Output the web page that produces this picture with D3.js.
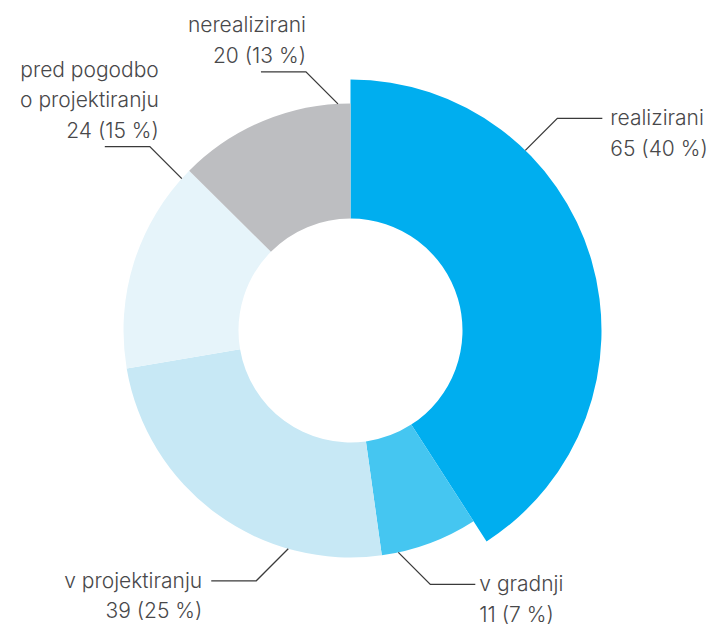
<!DOCTYPE html>
<html>
<head>
<meta charset="utf-8">
<script src="https://cdn.jsdelivr.net/npm/d3@7"></script>
<style>
  html, body { margin: 0; padding: 0; background: #fff; }
  svg text { font-family: Inter, "Open Sans", sans-serif; font-weight: 300; font-size: 21px; fill: #48484a; }
</style>
</head>
<body>
<svg id="chart" width="707" height="629"></svg>
<script>
const categories = ['realizirani', 'v gradnji', 'v projektiranju', 'pred pogodbo\no projektiranju', 'nerealizirani']
const values = [65, 11, 39, 24, 20]
const percents = [40, 7, 25, 15, 13]
const colors = ['#00aeef', '#45c6f1', '#c7e8f5', '#e6f4fa', '#bdbec1']

// label placement: where along the slice the leader starts, which way it goes, how text sits
const labelLayout = [
	{t: 0.30, sx: 1, sy: -1, mode: 'side', dx: 8},
	{t: 0.83, sx: 1, sy: 1, mode: 'side', dx: 4},
	{t: 0.27, sx: -1, sy: 1, mode: 'side', dx: 9},
	{t: 0.95, sx: -1, sy: -1, mode: 'above', dx: 9},
	{t: 0.93, sx: -1, sy: -1, mode: 'above', dx: 0}
]

const cx = 350.5, cy = 330.5
const innerR = 112, outerR = 227, bigR = 251
const lineH = 30.5

const data = categories.map((c, i) => ({category: c, value: values[i], pct: percents[i], color: colors[i]}))

const svg = d3.select('#chart')
const g = svg.append('g').attr('transform', 'translate(' + cx + ',' + cy + ')')

const pie = d3.pie().value(d => d.value).sort(null)
const arcs = pie(data)

const arc = d3.arc().innerRadius(innerR).outerRadius((d, i) => i === 0 ? bigR : outerR)

g.selectAll('path.slice')
	.data(arcs)
	.join('path')
		.attr('class', 'slice')
		.attr('d', (d, i) => arc(d, i))
		.attr('fill', d => d.data.color)

// leader lines and labels
arcs.forEach((d, i) => {
	const L = labelLayout[i]
	const r = i === 0 ? bigR : outerR
	const a = d.startAngle + (d.endAngle - d.startAngle) * L.t
	const p0 = [r * Math.sin(a), -r * Math.cos(a)]
	const p1 = [p0[0] + 32 * L.sx, p0[1] + 32 * L.sy]
	const p2 = [p1[0] + 45 * L.sx, p1[1]]

	g.append('path')
		.attr('d', d3.line()([p0, p1, p2]))
		.attr('fill', 'none')
		.attr('stroke', '#3a3a3a')
		.attr('stroke-width', 1.3)

	const lines = d.data.category.split('\n').concat([d.data.value + ' (' + d.data.pct + ' %)'])
	const txt = g.append('text')

	if (L.mode === 'side') {
		txt.attr('text-anchor', L.sx > 0 ? 'start' : 'end')
		lines.forEach((s, k) => {
			txt.append('tspan')
				.attr('x', p2[0] + L.dx * L.sx)
				.attr('y', p1[1] + 7 + k * lineH)
				.text(s)
		})
	} else {
		const n = lines.length
		txt.attr('text-anchor', 'end')
		lines.forEach((s, k) => {
			txt.append('tspan')
				.attr('x', p1[0] + L.dx)
				.attr('y', p1[1] - 9 - (n - 1 - k) * lineH)
				.text(s)
		})
	}
})
</script>
</body>
</html>
